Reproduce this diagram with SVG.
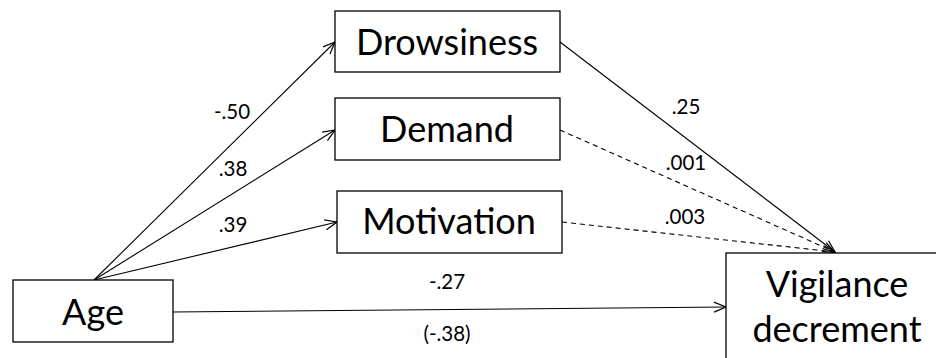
<svg xmlns="http://www.w3.org/2000/svg" width="936" height="358" viewBox="0 0 936 358">
<style>
.box{fill:#fff;stroke:#000;stroke-width:1.3}
.big{font-family:Lato,"Liberation Sans",sans-serif;font-size:36px;text-anchor:middle;fill:#000}
.lbl{font-family:Lato,"Liberation Sans",sans-serif;font-size:20.5px;text-anchor:middle;fill:#000}
.ln{fill:none;stroke:#000;stroke-width:1.1}
.dash{stroke-dasharray:5,4}
</style>
<defs>
<marker id="arr" viewBox="0 0 14 12" refX="13" refY="6" markerWidth="14" markerHeight="12" markerUnits="userSpaceOnUse" orient="auto">
<path d="M1,1 L13,6 L1,11" fill="none" stroke="#000" stroke-width="1.2"/>
</marker>
</defs>
<rect width="936" height="358" fill="#fff"/>
<g id="connectors">
<line class="ln" x1="94" y1="280" x2="335" y2="42" marker-end="url(#arr)"/>
<line class="ln" x1="94" y1="280" x2="335" y2="130" marker-end="url(#arr)"/>
<line class="ln" x1="94" y1="280" x2="337" y2="222" marker-end="url(#arr)"/>
<line class="ln" x1="173" y1="312" x2="726" y2="307" marker-end="url(#arr)"/>
<line class="ln" x1="560" y1="42" x2="835" y2="252" marker-end="url(#arr)"/>
<line class="ln dash" x1="560" y1="130" x2="835" y2="252" marker-end="url(#arr)"/>
<line class="ln dash" x1="562" y1="222" x2="835" y2="252" marker-end="url(#arr)"/>
<text class="lbl" x="232" y="119">-.50</text>
<text class="lbl" x="233" y="176">.38</text>
<text class="lbl" x="233" y="232">.39</text>
<text class="lbl" x="686" y="114">.25</text>
<text class="lbl" x="686" y="170">.001</text>
<text class="lbl" x="685" y="224">.003</text>
<text class="lbl" x="447" y="289">-.27</text>
<text class="lbl" x="447" y="341">(-.38)</text>
</g>
<g id="age">
<rect class="box" x="13" y="280" width="160" height="62"/>
<text class="big" x="93" y="325">Age</text>
</g>
<g id="drowsiness">
<rect class="box" x="335" y="11" width="225" height="61"/>
<text class="big" x="447" y="55">Drowsiness</text>
</g>
<g id="demand">
<rect class="box" x="335" y="98" width="225" height="62"/>
<text class="big" x="447" y="142">Demand</text>
</g>
<g id="motivation">
<rect class="box" x="337" y="191" width="225" height="62"/>
<text class="big" x="449" y="234">Motivation</text>
</g>
<g id="vigilance">
<rect class="box" x="726" y="253" width="230" height="120"/>
<text class="big" x="837" y="297">Vigilance</text>
<text class="big" x="837" y="342">decrement</text>
</g>
</svg>
